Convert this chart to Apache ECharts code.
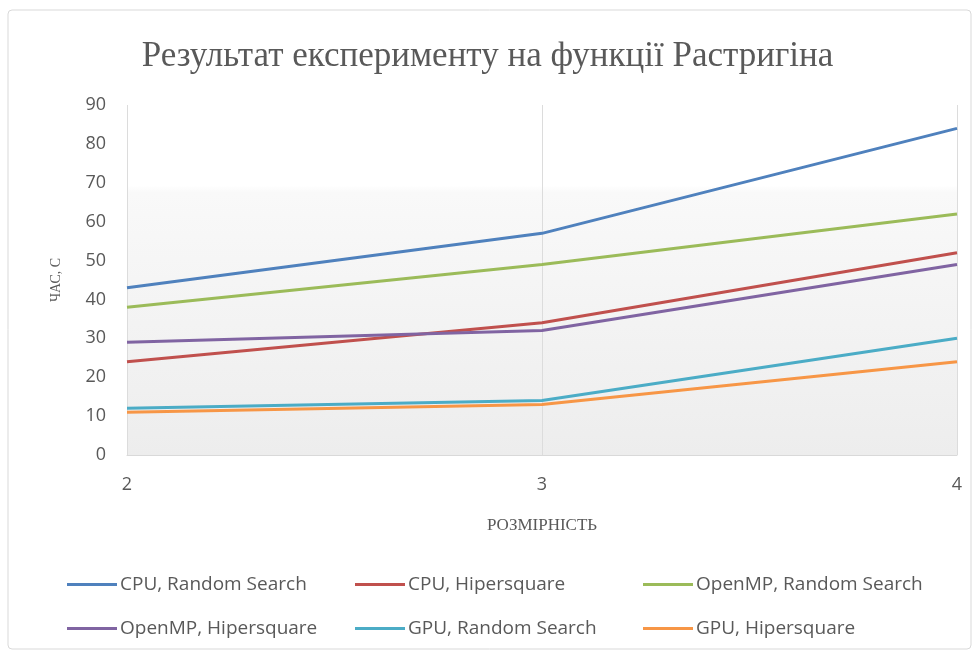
<!DOCTYPE html>
<html>
<head>
<meta charset="utf-8">
<script src="https://cdn.jsdelivr.net/npm/echarts@6/dist/echarts.min.js"></script>
<style>
  html, body { margin: 0; padding: 0; background: #ffffff; }
  #chart { width: 975px; height: 657px; }
</style>
</head>
<body>
<div id="chart"></div>
<script>
// Dimensions tested (x axis)
const dims = ['2', '3', '4'];

// Run time, seconds, per configuration
const cpuRandom = [43, 57, 84];
const cpuHiper = [24, 34, 52];
const ompRandom = [38, 49, 62];
const ompHiper = [29, 32, 49];
const gpuRandom = [12, 14, 30];
const gpuHiper = [11, 13, 24];

const seriesNames = [
  'CPU, Random Search', 'CPU, Hipersquare', 'OpenMP, Random Search',
  'OpenMP, Hipersquare', 'GPU, Random Search', 'GPU, Hipersquare'
];
const seriesData = [cpuRandom, cpuHiper, ompRandom, ompHiper, gpuRandom, gpuHiper];
const colors = ['#4F81BD', '#C0504D', '#9BBB59', '#8064A2', '#4BACC6', '#F79646'];

const yTicks = { min: 0, max: 90, step: 10 };

const textGray = '#595959';
const sansFont = '"Open Sans", "Noto Sans", sans-serif';
const serifFont = '"Liberation Serif", "DejaVu Serif", serif';

const chart = echarts.init(document.getElementById('chart'), null, { renderer: 'canvas' });

// One vertical legend per column keeps the two rows aligned
function legendColumn(names, left) {
  return {
    orient: 'vertical',
    left: left,
    top: 575,
    padding: 0,
    itemGap: 25,
    itemWidth: 50,
    itemHeight: 3,
    icon: 'rect',
    data: names,
    textStyle: { fontFamily: sansFont, fontSize: 19, color: textGray, padding: [0, 0, 0, -2] },
    selectedMode: false
  };
}

chart.setOption({
  backgroundColor: '#ffffff',
  color: colors,
  animation: false,
  graphic: [{
    type: 'rect',
    shape: { x: 8, y: 10, width: 963, height: 639, r: 4 },
    style: { fill: 'none', stroke: '#d9d9d9', lineWidth: 1 },
    silent: true,
    z: -1
  }],
  title: {
    text: 'Результат експерименту на функції Растригіна',
    left: 'center',
    top: 34,
    textStyle: { fontFamily: serifFont, fontSize: 35, fontWeight: 'normal', color: textGray }
  },
  legend: [
    legendColumn([seriesNames[0], seriesNames[3]], 67),
    legendColumn([seriesNames[1], seriesNames[4]], 355),
    legendColumn([seriesNames[2], seriesNames[5]], 643)
  ],
  grid: {
    left: 127, right: 18, top: 105, bottom: 202,
    show: true,
    borderWidth: 0,
    backgroundColor: {
      type: 'linear', x: 0, y: 0, x2: 0, y2: 1,
      colorStops: [
        { offset: 0, color: '#ffffff' },
        { offset: 0.23, color: '#ffffff' },
        { offset: 0.25, color: '#f9f9f9' },
        { offset: 1, color: '#ededed' }
      ]
    }
  },
  xAxis: {
    type: 'category',
    data: dims,
    boundaryGap: false,
    name: 'РОЗМІРНІСТЬ',
    nameLocation: 'middle',
    nameGap: 62,
    nameTextStyle: { fontFamily: serifFont, fontSize: 17, color: textGray },
    axisLine: { show: true, lineStyle: { color: '#d9d9d9', width: 1 } },
    axisTick: { show: false },
    axisLabel: {
      margin: 21,
      fontFamily: sansFont, fontSize: 18, color: textGray
    },
    splitLine: { show: true, lineStyle: { color: '#dcdcdc', width: 1 } }
  },
  yAxis: {
    type: 'value',
    min: yTicks.min,
    max: yTicks.max,
    interval: yTicks.step,
    name: 'ЧАС, С',
    nameLocation: 'middle',
    nameGap: 64,
    nameRotate: 90,
    nameTextStyle: { fontFamily: serifFont, fontSize: 14, color: textGray },
    axisLine: { show: false },
    axisTick: { show: false },
    splitLine: { show: false },
    axisLabel: { margin: 21, fontFamily: sansFont, fontSize: 18, color: textGray }
  },
  series: seriesData.map((d, i) => ({
    name: seriesNames[i],
    type: 'line',
    data: d,
    symbol: 'none',
    lineStyle: { width: 3, color: colors[i] },
    itemStyle: { color: colors[i] }
  }))
});
</script>
</body>
</html>
